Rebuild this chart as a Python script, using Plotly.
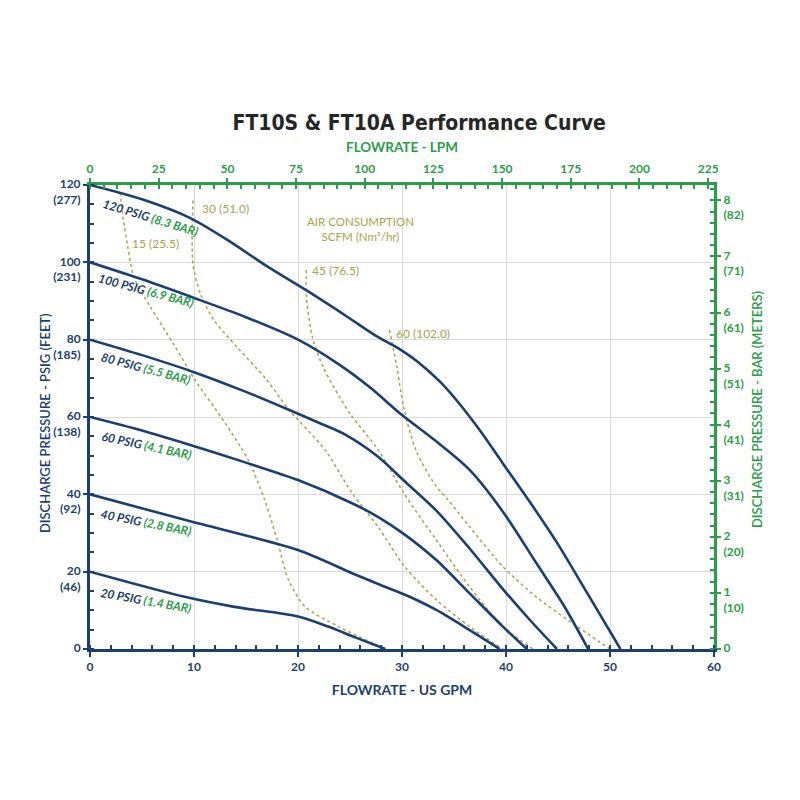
import plotly.graph_objects as go

# ---------------- data ----------------
# Performance curves: flow (US GPM) vs discharge pressure (PSIG)
gpm_120 = [0, 5, 9.6, 13.5, 17.0, 20.9, 24.7, 27.5, 29.5, 31.5, 33.7, 35.5, 37.5, 39.7, 42.3, 44.9, 47.8, 51.0]
psi_120 = [120, 116.3, 111.5, 105.3, 99.0, 92.6, 86.0, 81.0, 78.0, 74.3, 69.0, 63.5, 56.5, 48.0, 38.0, 27.5, 14.5, 0]

gpm_100 = [0, 5, 10, 15, 20, 24, 27, 30, 33, 36.5, 39.7, 42.9, 45.5, 47.9]
psi_100 = [100, 95.6, 90.8, 85.8, 80.0, 73.5, 67.5, 60.5, 54.3, 46.3, 35.5, 22.3, 11.5, 0]

gpm_80 = [0, 5, 10, 15, 19, 22, 24.5, 27.7, 30.2, 33.3, 36.5, 39.7, 42.3, 44.9]
psi_80 = [80, 76.0, 71.6, 66.5, 62.0, 58.5, 55.5, 49.7, 43.5, 35.8, 26.0, 15.5, 7.5, 0]

gpm_60 = [0, 5, 9.1, 15, 20.0, 25.2, 27.8, 30.1, 33.3, 36.5, 39.7, 42.0]
psi_60 = [60, 56.5, 53.2, 48.2, 43.7, 37.7, 34.0, 29.9, 23.0, 14.4, 5.8, 0]

gpm_40 = [0, 9.1, 20.0, 25.2, 28.0, 31.0, 33.3, 36.5, 39.4]
psi_40 = [40, 33.4, 25.6, 19.6, 16.5, 13.2, 10.1, 4.9, 0]

gpm_20 = [0, 9.1, 13.9, 20.0, 22.9, 25.5, 28.4]
psi_20 = [20, 13.5, 10.9, 8.4, 5.8, 3.0, 0]

# Air consumption lines (SCFM)
gpm_a15 = [2.9, 3.2, 3.6, 4.2, 5.8, 8.0, 10.1, 13.0, 15.2, 16.8, 18.0, 19.1, 20.7, 23.9, 28.4]
psi_a15 = [118, 111.2, 104.5, 96.3, 88.5, 79.0, 69.6, 58.4, 48.9, 38.5, 28.2, 17.8, 10.9, 5.8, 0]

gpm_a30 = [9.9, 9.9, 10.6, 11.9, 14.1, 17.0, 19.0, 22.6, 25.2, 27.7, 30.2, 33.3, 36.5, 39.7]
psi_a30 = [116, 99.7, 92.0, 85.1, 78.2, 69.6, 62.3, 51.5, 40.3, 31.6, 21.5, 12.7, 5.8, 0]

gpm_a45 = [20.8, 20.8, 21.4, 22.4, 24.0, 25.1, 27.7, 30.2, 33.3, 36.5, 39.7, 42.6]
psi_a45 = [98.0, 91.1, 80.5, 73.0, 65.2, 60.5, 51.5, 40.2, 28.2, 16.1, 5.8, 0]

gpm_a60 = [28.8, 29.5, 30.2, 31.4, 33.3, 34.3, 36.5, 39.7, 42.9, 46.2, 50.0]
psi_a60 = [82.5, 73.0, 62.0, 51.0, 42.0, 39.0, 31.6, 21.3, 13.5, 7.0, 0]

curve_labels = ["120 PSIG", "100 PSIG", "80 PSIG", "60 PSIG", "40 PSIG", "20 PSIG"]
bar_labels = ["(8.3 BAR)", "(6.9 BAR)", "(5.5 BAR)", "(4.1 BAR)", "(2.8 BAR)", "(1.4 BAR)"]
air_labels = ["15 (25.5)", "30 (51.0)", "45 (76.5)", "60 (102.0)"]

psi_ticks = [0, 20, 40, 60, 80, 100, 120]
feet_ticks = ["", "46", "92", "138", "185", "231", "277"]
bar_ticks = [0, 1, 2, 3, 4, 5, 6, 7, 8]
meter_ticks = ["", "10", "20", "31", "41", "51", "61", "71", "82"]
gpm_ticks = [0, 10, 20, 30, 40, 50, 60]
lpm_ticks = [0, 25, 50, 75, 100, 125, 150, 175, 200, 225]

GPM_MAX = 60
PSI_MAX = 120
LPM_PER_GPM = 3.78541
PSI_PER_BAR = 14.5038

# ---------------- styling ----------------
BLUE = "#1b3f6e"
GREEN = "#2a9d48"
OLIVE = "#aaa24c"
GRID = "#d9d9d9"
FONT = "Lato, 'Open Sans', sans-serif"

fig = go.Figure()

curves = [(gpm_120, psi_120), (gpm_100, psi_100), (gpm_80, psi_80),
          (gpm_60, psi_60), (gpm_40, psi_40), (gpm_20, psi_20)]
airs = [(gpm_a15, psi_a15), (gpm_a30, psi_a30), (gpm_a45, psi_a45), (gpm_a60, psi_a60)]

for gx, py in airs:
    fig.add_trace(go.Scatter(x=gx, y=py, mode="lines", line_shape="spline",
                             line=dict(color=OLIVE, width=1.5, dash="dot", smoothing=0.8),
                             showlegend=False, hoverinfo="skip"))
for gx, py in curves:
    fig.add_trace(go.Scatter(x=gx, y=py, mode="lines", line_shape="spline",
                             line=dict(color=BLUE, width=2.6, smoothing=0.8),
                             showlegend=False, hoverinfo="skip"))

# empty trace on the secondary axes so they are drawn
fig.add_trace(go.Scatter(x=[], y=[], xaxis="x2", yaxis="y2", showlegend=False, hoverinfo="skip"))

# curve labels
label_pos = [(5.8, 111.5, 17), (5.4, 92.8, 15), (5.4, 72.6, 15),
             (5.4, 52.6, 12), (5.4, 32.6, 11), (5.4, 12.6, 10)]
for (lx, ly, ang), c, b in zip(label_pos, curve_labels, bar_labels):
    fig.add_annotation(x=lx, y=ly, xref="x", yref="y", showarrow=False,
                       text=f"<b><i>{c} <span style='color:{GREEN}'>{b}</span></i></b>",
                       textangle=ang, font=dict(family=FONT, size=12, color=BLUE))

air_pos = [(3.8, 104.8), (10.6, 113.8), (21.2, 97.8), (29.2, 81.7)]
for (ax_, ay_), t in zip(air_pos, air_labels):
    fig.add_annotation(x=ax_, y=ay_, xref="x", yref="y", showarrow=False, xanchor="left",
                       text=t, font=dict(family=FONT, size=12, color=OLIVE))
fig.add_annotation(x=26, y=108.6, xref="x", yref="y", showarrow=False,
                   text="AIR CONSUMPTION<br>SCFM (Nm³/hr)",
                   font=dict(family=FONT, size=11.5, color=OLIVE))

# vertical axis titles
fig.add_annotation(x=-0.072, y=0.487, xref="paper", yref="paper", showarrow=False,
                   xanchor="center", yanchor="middle",
                   text="DISCHARGE PRESSURE - PSIG (FEET)", textangle=-90,
                   font=dict(family=FONT, size=13, color=BLUE, weight=600))
fig.add_annotation(x=1.069, y=0.515, xref="paper", yref="paper", showarrow=False,
                   xanchor="center", yanchor="middle",
                   text="DISCHARGE PRESSURE - BAR (METERS)", textangle=-90,
                   font=dict(family=FONT, size=13, color=GREEN, weight=600))

tick_font_b = dict(family=FONT, size=12, color=BLUE, weight="bold")
tick_font_g = dict(family=FONT, size=12, color=GREEN, weight="bold")

fig.update_layout(
    width=800, height=800,
    paper_bgcolor="white", plot_bgcolor="white",
    margin=dict(l=82, r=94, t=177, b=159),
    title=dict(text="<b>FT10S &amp; FT10A Performance Curve</b>", x=0.514, xanchor="center",
               y=0.857, yanchor="middle",
               font=dict(family="'DejaVu Sans Condensed', sans-serif",
                         size=21, color="#262626")),
    xaxis=dict(range=[0, GPM_MAX], tickvals=gpm_ticks, ticktext=[str(v) for v in gpm_ticks],
               showgrid=True, gridcolor=GRID, gridwidth=1, zeroline=False,
               showline=True, linecolor=BLUE, linewidth=3,
               ticks="outside", ticklen=5, tickwidth=2, tickcolor=BLUE,
               minor=dict(dtick=2, ticks="inside", ticklen=4, tickwidth=1.5, tickcolor=BLUE, showgrid=False),
               tickfont=tick_font_b,
               title=dict(text="<b>FLOWRATE - US GPM</b>", standoff=12,
                          font=dict(family=FONT, size=14, color=BLUE))),
    yaxis=dict(range=[0, PSI_MAX], tickvals=psi_ticks,
               ticktext=[f"{p}<br>({f})" if f else f"{p}<br>&nbsp;" for p, f in zip(psi_ticks, feet_ticks)],
               ticklabelshift=7,
               showgrid=True, gridcolor=GRID, gridwidth=1, zeroline=False,
               showline=True, linecolor=BLUE, linewidth=3,
               ticks="outside", ticklen=4, tickwidth=2, tickcolor=BLUE,
               minor=dict(dtick=5, ticks="inside", ticklen=4, tickwidth=1.5, tickcolor=BLUE, showgrid=False),
               tickfont=tick_font_b),
    xaxis2=dict(range=[0, GPM_MAX * LPM_PER_GPM], overlaying="x", side="top", anchor="y",
                tickvals=lpm_ticks, ticktext=[str(v) for v in lpm_ticks],
                showgrid=False, zeroline=False, showline=True, linecolor=GREEN, linewidth=3,
                ticks="outside", ticklen=4, tickwidth=2, tickcolor=GREEN,
                minor=dict(dtick=5, ticks="inside", ticklen=4, tickwidth=1.5, tickcolor=GREEN),
                tickfont=tick_font_g,
                title=dict(text="<b>FLOWRATE - LPM</b>", standoff=6,
                           font=dict(family=FONT, size=13.5, color=GREEN))),
    yaxis2=dict(range=[0, PSI_MAX / PSI_PER_BAR], overlaying="y", side="right", anchor="x",
                tickvals=bar_ticks,
                ticktext=[f"{b}<br>({m})" if m else f"{b}<br>&nbsp;" for b, m in zip(bar_ticks, meter_ticks)],
                ticklabelshift=7,
                showgrid=False, zeroline=False, showline=True, linecolor=GREEN, linewidth=3,
                ticks="outside", ticklen=4, tickwidth=2, tickcolor=GREEN,
                minor=dict(dtick=0.2, ticks="inside", ticklen=4, tickwidth=1.5, tickcolor=GREEN),
                tickfont=tick_font_g),
)

fig.write_html("out.html")
